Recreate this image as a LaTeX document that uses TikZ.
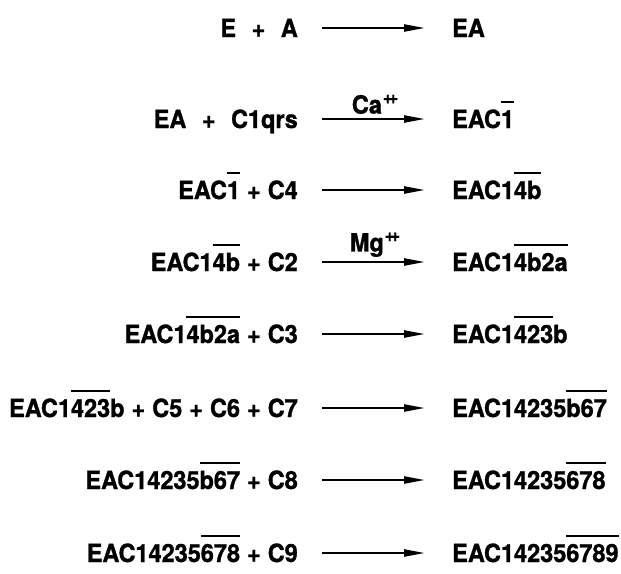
\documentclass[tikz,border=0pt]{standalone}
\usepackage{fontspec}
\setmainfont{TeX Gyre Heros}[BoldFeatures={FakeBold=1.2,FakeStretch=0.94}]
\usetikzlibrary{arrows.meta}
\newcommand\ovl[1]{\vbox{\hrule height 2pt\kern 7pt\hbox{#1}}}
\newcommand\pp{\kern1pt\raisebox{10pt}{\fontsize{18}{18}\selectfont +\kern-4.5pt+}}
\newcommand\pw{\hspace{15.5pt}+\hspace{15.5pt}}
\newcommand\pn{\hspace{7pt}+\hspace{7pt}}
\begin{document}
\begin{tikzpicture}[x=1pt,y=-1pt,
  txt/.style={inner sep=0pt, text height=18pt, text depth=0pt,
    font=\bfseries\fontsize{25}{28}\selectfont},
  lhs/.style={txt, anchor=east},
  rhs/.style={txt, anchor=west},
  lab/.style={inner sep=0pt, anchor=south, font=\bfseries\fontsize{25}{28}\selectfont},
  arr/.style={-{Triangle[length=21pt,width=7pt]}, line width=2.3pt,
    shorten <=24pt, shorten >=27pt}]
\useasboundingbox (0,0) rectangle (621,573);
% rows
\node[lhs] (l1) at (298,28)  {E\pw A};
\node[rhs] (r1) at (452,28)  {EA};
\node[lhs] (l2) at (298,119) {EA\pw C1qrs};
\node[rhs] (r2) at (452,119) {EAC\ovl{1}};
\node[lhs] (l3) at (298,190) {EAC\ovl{1}\pn C4};
\node[rhs] (r3) at (452,190) {EAC1\ovl{4b}};
\node[lhs] (l4) at (298,262) {EAC1\ovl{4b}\pn C2};
\node[rhs] (r4) at (452,262) {EAC1\ovl{4b2a}};
\node[lhs] (l5) at (298,334) {EAC1\ovl{4b2a}\pn C3};
\node[rhs] (r5) at (452,334) {EAC1\ovl{423}b};
\node[lhs] (l6) at (298,408) {EAC1\ovl{423}b\pn C5\pn C6\pn C7};
\node[rhs] (r6) at (452,408) {EAC14235\ovl{b67}};
\node[lhs] (l7) at (298,480) {EAC14235\ovl{b67}\pn C8};
\node[rhs] (r7) at (452,480) {EAC14235\ovl{678}};
\node[lhs] (l8) at (298,553) {EAC14235\ovl{678}\pn C9};
\node[rhs] (r8) at (452,553) {EAC14235\ovl{6789}};
% arrows
\draw[arr] (l1) -- (r1);
\draw[arr] (l2) -- node[lab, above=4pt] (ca) {Ca\pp} (r2);
\draw[arr] (l3) -- (r3);
\draw[arr] (l4) -- node[lab, above=4pt] (mg) {Mg\pp} (r4);
\draw[arr] (l5) -- (r5);
\draw[arr] (l6) -- (r6);
\draw[arr] (l7) -- (r7);
\draw[arr] (l8) -- (r8);
\end{tikzpicture}
\end{document}
